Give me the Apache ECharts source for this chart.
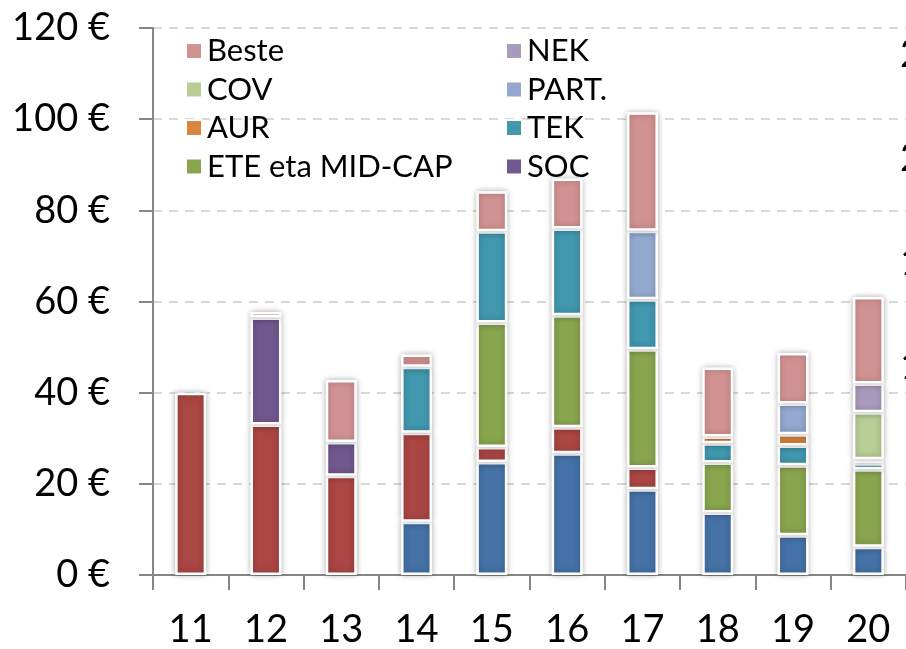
<!DOCTYPE html>
<html>
<head>
<meta charset="utf-8">
<script src="https://cdn.jsdelivr.net/npm/echarts@6/dist/echarts.min.js"></script>
<style>
html,body{margin:0;padding:0;background:#fff;}
#chart{width:906px;height:649px;}
</style>
</head>
<body>
<div id="chart"></div>
<script>
// Categories and values
const categories = ['11','12','13','14','15','16','17','18','19','20'];
const serieA   = [null, null, null, 11.7, 24.8, 26.7, 18.8, 13.7, 8.7, 6.2];   // blue (no legend entry)
const serieB   = [40.0, 33.0, 21.8, 19.5, 3.3, 5.7, 4.8, null, null, null];   // dark red (no legend entry)
const ete      = [null, null, null, null, 27.3, 24.6, 25.9, 11.0, 15.4, 17.0];
const soc      = [null, 23.5, 7.4, null, null, null, null, null, null, null];
const tek      = [null, null, null, 14.5, 20.0, 19.0, 11.0, 4.2, 4.3, 1.3];
const aur      = [null, null, null, null, null, null, null, 1.5, 2.5, null];
const serieC   = [null, null, null, null, null, null, null, null, null, 0.9]; // light peach (no legend entry)
const cov      = [null, null, null, null, null, null, null, null, null, 10.3];
const part     = [null, null, null, null, null, null, 15.0, null, 6.7, null];
const nek      = [null, null, null, null, null, null, null, null, null, 6.3];
const beste    = [null, 1.2, 13.6, 2.7, 8.8, 11.0, 26.0, 15.1, 11.1, 19.0];
const leftTicks = {min: 0, max: 120, interval: 20};
const rightTicks = {min: 0, max: 263, interval: 50};
const legendCol1 = ['Beste', 'COV', 'AUR', 'ETE eta MID-CAP'];
const legendCol2 = ['NEK', 'PART.', 'TEK', 'SOC'];

const FONT = 'Lato';
const seriesDefs = [
  ['Serie A', serieA, '#4572A7'],
  ['Serie B', serieB, '#AA4643'],
  ['ETE eta MID-CAP', ete, '#89A54E'],
  ['SOC', soc, '#71588F'],
  ['TEK', tek, '#4198AF'],
  ['AUR', aur, '#DB843D'],
  ['Serie C', serieC, '#F8D9C6'],
  ['COV', cov, '#B9CD96'],
  ['PART.', part, '#93A9CF'],
  ['NEK', nek, '#A99BBD'],
  ['Beste', beste, '#D19392']
];

const chart = echarts.init(document.getElementById('chart'), null, {renderer: 'canvas'});
const legendBase = {
  orient: 'vertical',
  top: 30,
  itemWidth: 16,
  itemHeight: 16,
  itemGap: 6.5,
  icon: 'rect',
  selectedMode: false,
  z: 10,
  textStyle: {fontFamily: FONT, fontSize: 31, color: '#000', lineHeight: 32, padding: [0, 0, 0, 0]}
};
chart.setOption({
  animation: false,
  color: seriesDefs.map(d => d[2]),
  grid: {left: 153, right: 0, top: 28, bottom: 74, containLabel: false, outerBoundsMode: 'none'},
  legend: [
    Object.assign({}, legendBase, {left: 180, data: legendCol1}),
    Object.assign({}, legendBase, {left: 500, data: legendCol2})
  ],
  xAxis: {
    type: 'category',
    data: categories,
    axisLine: {lineStyle: {color: '#868686', width: 2}},
    axisTick: {show: true, length: 15, lineStyle: {color: '#868686', width: 2}},
    axisLabel: {fontFamily: FONT, fontSize: 38, color: '#000', margin: 36}
  },
  yAxis: [
    {
      type: 'value',
      min: leftTicks.min, max: leftTicks.max, interval: leftTicks.interval,
      axisLine: {show: true, lineStyle: {color: '#868686', width: 2}},
      axisTick: {show: true, length: 14, lineStyle: {color: '#868686', width: 2}},
      axisLabel: {fontFamily: FONT, fontSize: 38, color: '#000', margin: 43, formatter: v => v + ' €'},
      splitLine: {show: true, lineStyle: {color: '#D9D9D9', width: 2, type: [9, 7]}}
    },
    {
      type: 'value',
      position: 'right',
      min: rightTicks.min, max: rightTicks.max, interval: rightTicks.interval,
      axisLine: {show: false},
      axisTick: {show: false},
      splitLine: {show: false},
      axisLabel: {fontFamily: FONT, fontSize: 38, color: '#000', margin: 60, align: 'right'}
    }
  ],
  series: seriesDefs.map(d => ({
    name: d[0],
    type: 'bar',
    stack: 'total',
    data: d[1],
    barWidth: 31,
    itemStyle: {
      color: d[2],
      borderColor: '#ffffff',
      borderWidth: 2.5,
      shadowBlur: 6,
      shadowColor: 'rgba(0,0,0,0.28)'
    }
  }))
});
</script>
</body>
</html>
